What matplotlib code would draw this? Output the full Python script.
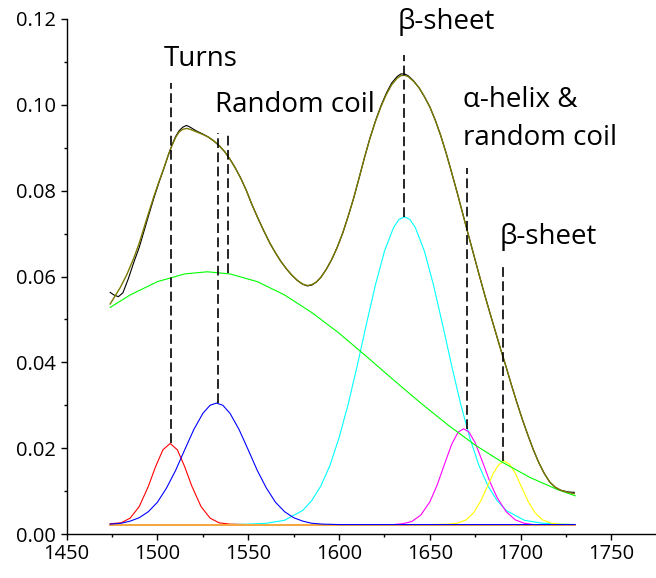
import matplotlib
matplotlib.use("Agg")
import matplotlib.pyplot as plt
from matplotlib.ticker import MultipleLocator, FormatStrFormatter

plt.rcParams['font.family'] = ['Open Sans', 'DejaVu Sans']
plt.rcParams['lines.scale_dashes'] = False

# ---- data (wavenumber, absorbance) ----
fit_x = [1474, 1479.5, 1483, 1487, 1490, 1492.5, 1495, 1498, 1501, 1503.5, 1506, 1508, 1510, 1512,
         1514, 1516, 1518, 1521.5, 1525, 1528, 1531, 1534, 1537, 1540, 1543, 1546, 1549, 1552, 1555,
         1558.5, 1562, 1565, 1568, 1571, 1574, 1577, 1580, 1582.5, 1585, 1587.5, 1590, 1593, 1596,
         1599, 1602, 1605, 1608, 1611, 1614, 1617, 1620, 1623, 1626, 1629, 1632, 1634, 1636, 1638,
         1641, 1644, 1647, 1650, 1653, 1656, 1659, 1662, 1665, 1668, 1671, 1674, 1677, 1680, 1683,
         1686, 1689, 1692, 1695, 1698, 1701, 1704, 1707, 1710, 1713, 1716, 1719, 1722, 1726, 1729.5]
fit_y = [0.0536, 0.0574, 0.0603, 0.0643, 0.0678, 0.0712, 0.0746, 0.0786, 0.0823, 0.0852, 0.0883, 0.0905,
         0.0924, 0.0937, 0.0943, 0.0945, 0.0943, 0.0937, 0.0931, 0.0925, 0.0916, 0.0905, 0.0891, 0.0873,
         0.0852, 0.0828, 0.0800, 0.0768, 0.0739, 0.0707, 0.0677, 0.0655, 0.0635, 0.0618, 0.0603, 0.0591,
         0.0582, 0.0579, 0.0581, 0.0587, 0.0598, 0.0617, 0.0640, 0.0668, 0.0701, 0.0740, 0.0782, 0.0829,
         0.0877, 0.0922, 0.0961, 0.0995, 0.1024, 0.1047, 0.1062, 0.1068, 0.1069, 0.1066, 0.1055, 0.1040,
         0.1019, 0.0995, 0.0964, 0.0928, 0.0887, 0.0842, 0.0796, 0.0748, 0.0700, 0.0653, 0.0606, 0.0560,
         0.0516, 0.0473, 0.0430, 0.0389, 0.0346, 0.0305, 0.0266, 0.0230, 0.0196, 0.0166, 0.0141, 0.0121,
         0.0109, 0.0102, 0.0097, 0.0094]

black_x = [1474, 1476, 1478.5, 1481, 1484, 1487, 1490, 1492.5, 1495, 1498, 1501, 1503.5, 1506, 1508,
           1510, 1512, 1514, 1516, 1518, 1521.5, 1525, 1528, 1531, 1534, 1537, 1540, 1543, 1546, 1549,
           1552, 1555, 1558.5, 1562, 1565, 1568, 1571, 1574, 1577, 1580, 1582.5, 1585, 1587.5, 1590,
           1593, 1596, 1599, 1602, 1605, 1608, 1611, 1614, 1617, 1620, 1623, 1626, 1629, 1632, 1634,
           1636, 1638, 1641, 1644, 1647, 1650, 1653, 1656, 1659, 1662, 1665, 1668, 1671, 1674, 1677,
           1680, 1683, 1686, 1689, 1692, 1695, 1698, 1701, 1704, 1707, 1710, 1713, 1716, 1719, 1722,
           1726, 1729.5]
black_y = [0.0563, 0.0557, 0.0553, 0.0562, 0.0595, 0.0633, 0.0668, 0.0704, 0.0740, 0.0782, 0.0821, 0.0851,
           0.0883, 0.0906, 0.0926, 0.0940, 0.0948, 0.0952, 0.0948, 0.0939, 0.0932, 0.0925, 0.0916, 0.0905,
           0.0891, 0.0873, 0.0852, 0.0828, 0.0800, 0.0768, 0.0739, 0.0707, 0.0677, 0.0655, 0.0635, 0.0618,
           0.0603, 0.0591, 0.0582, 0.0578, 0.0580, 0.0587, 0.0598, 0.0617, 0.0640, 0.0668, 0.0701, 0.0740,
           0.0782, 0.0829, 0.0877, 0.0922, 0.0962, 0.0997, 0.1027, 0.1051, 0.1066, 0.1072, 0.1072, 0.1068,
           0.1056, 0.1040, 0.1019, 0.0995, 0.0964, 0.0928, 0.0887, 0.0842, 0.0796, 0.0748, 0.0700, 0.0653,
           0.0606, 0.0560, 0.0516, 0.0473, 0.0430, 0.0389, 0.0346, 0.0305, 0.0266, 0.0230, 0.0196, 0.0166,
           0.0141, 0.0121, 0.0109, 0.0102, 0.0098, 0.0097]

red_x = [1474, 1480, 1485, 1490, 1495, 1499, 1503, 1507, 1511, 1515, 1519, 1524, 1529, 1534, 1540, 1550, 1730]
red_y = [0.0024, 0.0026, 0.0037, 0.0064, 0.0111, 0.0157, 0.0196, 0.0211, 0.0196, 0.0157, 0.0111, 0.0064,
         0.0037, 0.0026, 0.0023, 0.0022, 0.0022]

blue_x = [1474, 1480, 1485, 1490, 1495, 1500, 1505, 1510, 1515, 1520, 1525, 1529, 1532.5, 1536, 1540,
          1545, 1550, 1555, 1560, 1565, 1570, 1575, 1580, 1585, 1591, 1600, 1730]
blue_y = [0.0023, 0.0025, 0.0030, 0.0038, 0.0052, 0.0074, 0.0107, 0.0148, 0.0196, 0.0243, 0.0281, 0.0300,
          0.0305, 0.0300, 0.0281, 0.0243, 0.0196, 0.0148, 0.0107, 0.0074, 0.0052, 0.0038, 0.0030, 0.0025,
          0.0023, 0.0022, 0.0022]

cyan_x = [1474, 1540, 1550, 1560, 1570, 1580, 1585, 1590, 1595, 1600, 1605, 1610, 1615, 1620, 1625, 1630,
          1633, 1636, 1639, 1642, 1647, 1652, 1657, 1662, 1667, 1672, 1677, 1682, 1687, 1692, 1702, 1712,
          1722, 1730]
cyan_y = [0.0022, 0.0022, 0.0023, 0.0025, 0.0032, 0.0055, 0.0078, 0.0112, 0.0160, 0.0224, 0.0302, 0.0392,
          0.0488, 0.0580, 0.0659, 0.0714, 0.0733, 0.0739, 0.0733, 0.0714, 0.0659, 0.0580, 0.0488, 0.0392,
          0.0302, 0.0224, 0.0160, 0.0112, 0.0078, 0.0055, 0.0032, 0.0025, 0.0023, 0.0022]

magenta_x = [1474, 1620, 1630, 1635, 1640, 1645, 1650, 1654, 1658, 1662, 1665.5, 1668.5, 1671.5, 1675,
             1679, 1683, 1687, 1692, 1697, 1702, 1707, 1730]
magenta_y = [0.0022, 0.0022, 0.0022, 0.0024, 0.0029, 0.0044, 0.0075, 0.0114, 0.0162, 0.0209, 0.0237,
             0.0245, 0.0238, 0.0212, 0.0168, 0.0122, 0.0085, 0.0052, 0.0033, 0.0025, 0.0022, 0.0022]

yellow_x = [1474, 1650, 1660, 1665, 1670, 1674, 1678, 1682, 1685, 1688, 1691, 1694, 1697, 1700, 1704,
            1708, 1712, 1717, 1722, 1730]
yellow_y = [0.0022, 0.0022, 0.0023, 0.0025, 0.0033, 0.0049, 0.0077, 0.0114, 0.0142, 0.0162, 0.0170,
            0.0162, 0.0142, 0.0114, 0.0077, 0.0049, 0.0033, 0.0025, 0.0023, 0.0022]

green_x = [1474, 1485, 1500, 1515, 1527.5, 1540, 1555, 1570, 1585, 1600, 1615, 1630, 1645, 1660, 1675,
           1690, 1705, 1720, 1730]
green_y = [0.0528, 0.0557, 0.0588, 0.0606, 0.0611, 0.0606, 0.0588, 0.0557, 0.0516, 0.0468, 0.0414, 0.0359,
           0.0305, 0.0254, 0.0207, 0.0167, 0.0132, 0.0104, 0.0089]

baseline_x = [1474, 1730]
baseline_y = [0.0022, 0.0022]

# dashed marker lines: x, y_bottom, y_top
marker_x = [1507.4, 1533.3, 1539.0, 1636.0, 1670.6, 1690.2]
marker_lo = [0.0211, 0.0305, 0.0607, 0.0739, 0.0245, 0.0170]
marker_hi = [0.1050, 0.0934, 0.0934, 0.1115, 0.0852, 0.0623]

labels = ["Turns", "Random coil", "β-sheet", "α-helix &\nrandom coil", "β-sheet"]
label_x = [1524, 1575.5, 1659, 1668.5, 1688.5]
label_y = [0.1107, 0.0999, 0.1193, 0.0967, 0.0692]
label_ha = ["center", "center", "center", "left", "left"]

# ---- figure ----
fig = plt.figure(figsize=(6.56, 5.78), dpi=100)
ax = fig.add_axes([66.6 / 656, 44 / 578, (656 - 66.6) / 656, (534 - 19) / 578])

lw = 0.8
ax.plot(red_x, red_y, color='#ff0000', lw=lw)
ax.plot(cyan_x, cyan_y, color='#00ffff', lw=lw)
ax.plot(magenta_x, magenta_y, color='#ff00ff', lw=lw)
ax.plot(yellow_x, yellow_y, color='#ffff00', lw=lw)
ax.plot(green_x, green_y, color='#00ff00', lw=lw)
ax.plot(baseline_x, baseline_y, color='#f5a640', lw=1.4)
ax.plot(blue_x, blue_y, color='#0000ff', lw=lw)
ax.plot(black_x, black_y, color='#000000', lw=0.8)
ax.plot(fit_x, fit_y, color='#7a7a00', lw=1.0)

for mx, lo, hi in zip(marker_x, marker_lo, marker_hi):
    ax.plot([mx, mx], [lo, hi], color='black', lw=1.2, dashes=(7, 3.2))

for t, tx, ty, ha in zip(labels, label_x, label_y, label_ha):
    ax.text(tx, ty, t, ha=ha, va='center', fontsize=20, linespacing=1.5)

ax.set_xlim(1450, 1774.5)
ax.set_ylim(0, 0.12)
ax.xaxis.set_major_locator(MultipleLocator(50))
ax.xaxis.set_minor_locator(MultipleLocator(25))
ax.yaxis.set_major_locator(MultipleLocator(0.02))
ax.yaxis.set_minor_locator(MultipleLocator(0.01))
ax.yaxis.set_major_formatter(FormatStrFormatter('%.2f'))
for s in ['top', 'right']:
    ax.spines[s].set_visible(False)
for s in ['left', 'bottom']:
    ax.spines[s].set_linewidth(1.0)
ax.tick_params(which='major', direction='out', length=4.5, width=1.0, labelsize=14.5, pad=3)
ax.tick_params(which='minor', direction='out', length=2.5, width=1.0)

fig.savefig('out.png', dpi=100)
